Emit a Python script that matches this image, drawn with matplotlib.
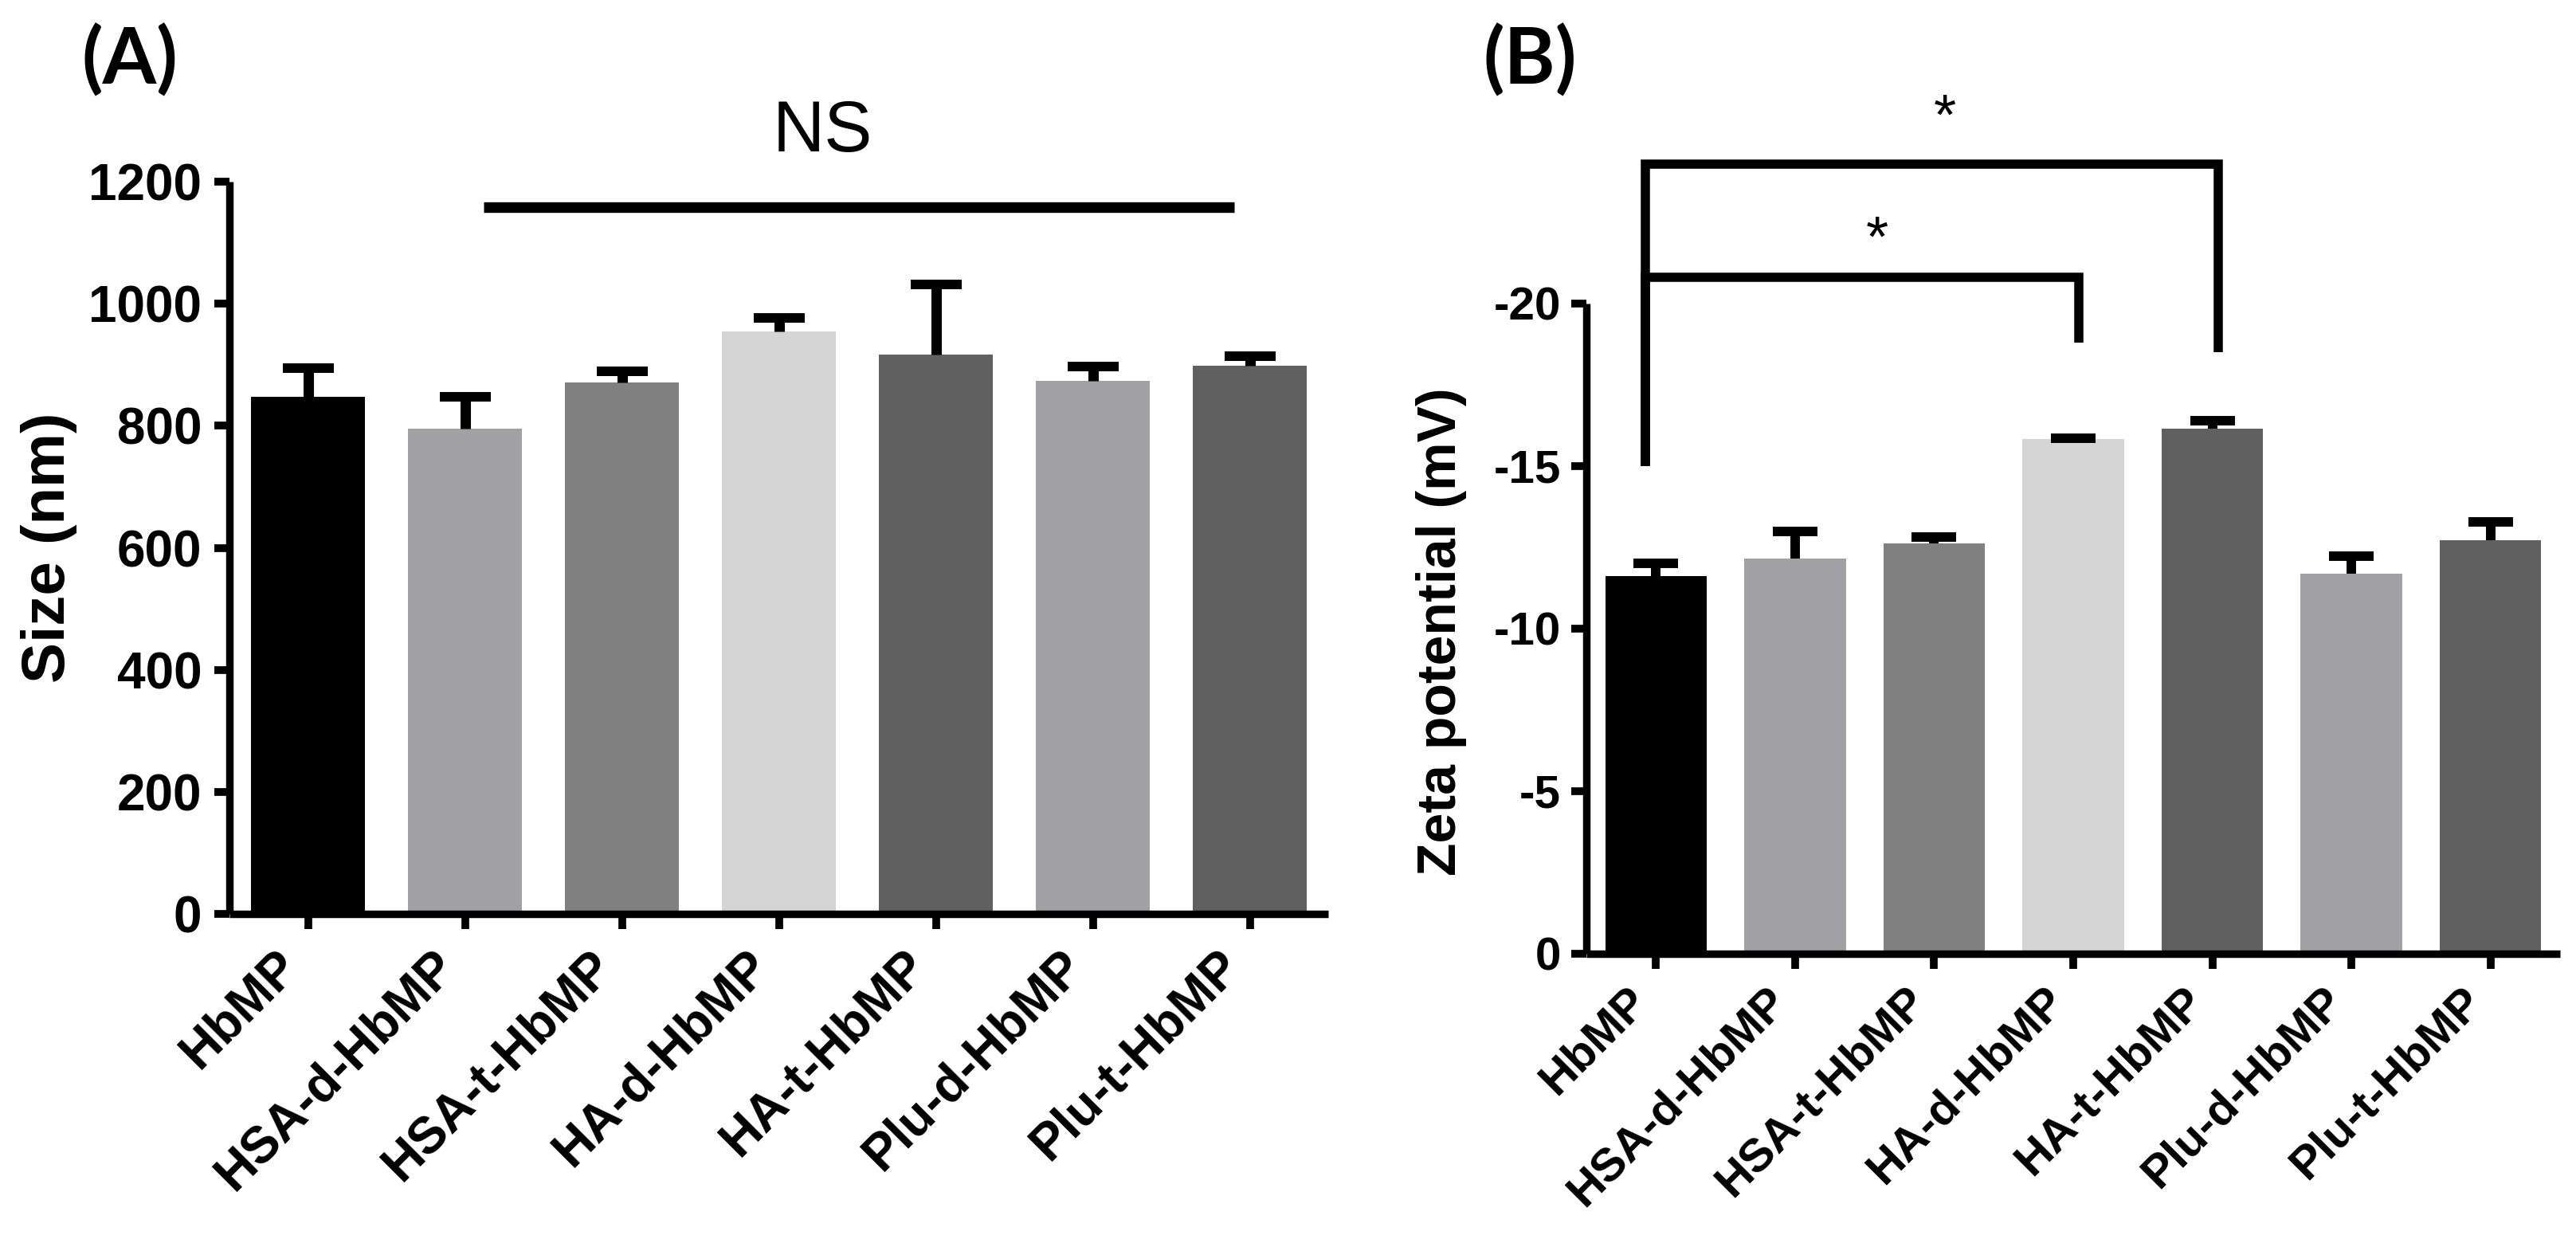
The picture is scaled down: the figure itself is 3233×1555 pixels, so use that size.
import matplotlib
matplotlib.use("Agg")
import matplotlib.pyplot as plt
import numpy as np

plt.rcParams['font.family'] = ['Liberation Sans', 'DejaVu Sans']
plt.rcParams['axes.unicode_minus'] = False

categories = ["HbMP", "HSA-d-HbMP", "HSA-t-HbMP", "HA-d-HbMP",
              "HA-t-HbMP", "Plu-d-HbMP", "Plu-t-HbMP"]
bar_colors = ["#000000", "#A1A1A5", "#808080", "#D4D4D4",
              "#606060", "#A1A1A5", "#606060"]

size_nm = [847, 795, 871, 955, 916, 874, 898]
size_err = [47, 52, 18, 22, 116, 23, 16]
size_ticks = [0, 200, 400, 600, 800, 1000, 1200]

zeta_mv = [-11.62, -12.16, -12.63, -15.84, -16.15, -11.70, -12.71]
zeta_err = [0.39, 0.83, 0.19, 0.03, 0.25, 0.54, 0.57]
zeta_ticks = [0, -5, -10, -15, -20]

ns_span = (1, 6)
ns_y = 1158
zeta_comparisons = [(0, 3), (0, 4)]
zeta_bracket_y = [-20.8, -24.3]
zeta_leg_bottom = [-15.0, -18.8, -18.5]

W, H = 3233, 1555
fig = plt.figure(figsize=(W / 100, H / 100), dpi=100)

axA = fig.add_axes([288 / W, 1 - 1147 / H, 1379 / W, 919 / H])
axB = fig.add_axes([1991 / W, 1 - 1197 / H, 1222 / W, 816 / H])

x = np.arange(len(categories))


def style(ax, fs, pad):
    for s in ["top", "right"]:
        ax.spines[s].set_visible(False)
    for s in ["left", "bottom"]:
        ax.spines[s].set_linewidth(6.8)
        ax.spines[s].set_capstyle("butt")
    ax.tick_params(axis="both", width=7, length=14, labelsize=fs, pad=pad,
                   color="black")
    for lab in ax.get_xticklabels() + ax.get_yticklabels():
        lab.set_fontweight("bold")


def one_sided_errorbars(ax, xs, vals, errs, sign, elw, capsize, capthick):
    vals = np.asarray(vals, float)
    errs = np.asarray(errs, float)
    tops = vals + sign * errs
    zeros = np.zeros(len(xs))
    if sign > 0:
        yerr = [zeros, errs]
    else:
        yerr = [errs, zeros]
    # stems
    ax.errorbar(xs, vals, yerr=yerr, fmt="none", ecolor="black",
                elinewidth=elw, capsize=0, zorder=3)
    # single caps at the error end
    ax.errorbar(xs, tops, yerr=zeros, fmt="none", ecolor="black",
                elinewidth=0, capsize=capsize, capthick=capthick, zorder=3)


# Panel A
axA.bar(x, size_nm, width=0.73, color=bar_colors, zorder=2)
one_sided_errorbars(axA, x, size_nm, size_err, +1, 9.4, 23, 8.6)
axA.set_xlim(-0.5, 6.5)
axA.set_ylim(0, 1200)
axA.set_yticks(size_ticks)
axA.set_xticks(x)
axA.set_xticklabels(categories, rotation=45, ha="right")
style(axA, 46, 11)
axA.set_ylabel("Size (nm)", fontsize=55, fontweight="bold")
axA.yaxis.label.set_verticalalignment("center")
axA.yaxis.set_label_coords(-0.1646, 0.5)

axA.plot([ns_span[0] + 0.12, ns_span[1] - 0.10], [ns_y, ns_y], color="black",
         lw=9.6, solid_capstyle="butt", clip_on=False, zorder=4)
axA.text(3.28, 1249, "NS", fontsize=65, ha="center", va="baseline",
         clip_on=False)

# Panel B
axB.bar(x, zeta_mv, width=0.73, color=bar_colors, zorder=2)
one_sided_errorbars(axB, x, zeta_mv, zeta_err, -1, 8.6, 20.5, 8.3)
axB.set_xlim(-0.5, 6.5)
axB.set_ylim(0, -20)
axB.set_yticks(zeta_ticks)
axB.set_yticklabels([str(t) for t in zeta_ticks])
axB.set_xticks(x)
axB.set_xticklabels(categories, rotation=45, ha="right")
style(axB, 42, 9)
axB.set_ylabel("Zeta potential (mV)", fontsize=49, fontweight="bold")
axB.yaxis.label.set_verticalalignment("center")
axB.yaxis.set_label_coords(-0.149, 0.496)

for k, ((i, j), yb) in enumerate(zip(zeta_comparisons, zeta_bracket_y)):
    xl = i - 0.075
    xr = j + 0.04
    axB.plot([xl, xl, xr, xr], [zeta_leg_bottom[0], yb, yb, zeta_leg_bottom[k + 1]],
             color="black", lw=8.3, solid_joinstyle="miter",
             solid_capstyle="butt", clip_on=False, zorder=4)
star_x = [1.59, 2.08]
star_y = [-21.91, -25.66]
for sx, sy in zip(star_x, star_y):
    axB.text(sx, sy, "*", fontsize=52, ha="center", va="center",
             clip_on=False)

fig.text(163 / W, 1 - 75 / H, "(A)", fontsize=70, fontweight="bold",
         family="Lato", ha="center", va="center")
fig.text(1920 / W, 1 - 75 / H, "(B)", fontsize=70, fontweight="bold",
         family="Lato", ha="center", va="center")

fig.savefig("out.png", dpi=100, facecolor="white")
